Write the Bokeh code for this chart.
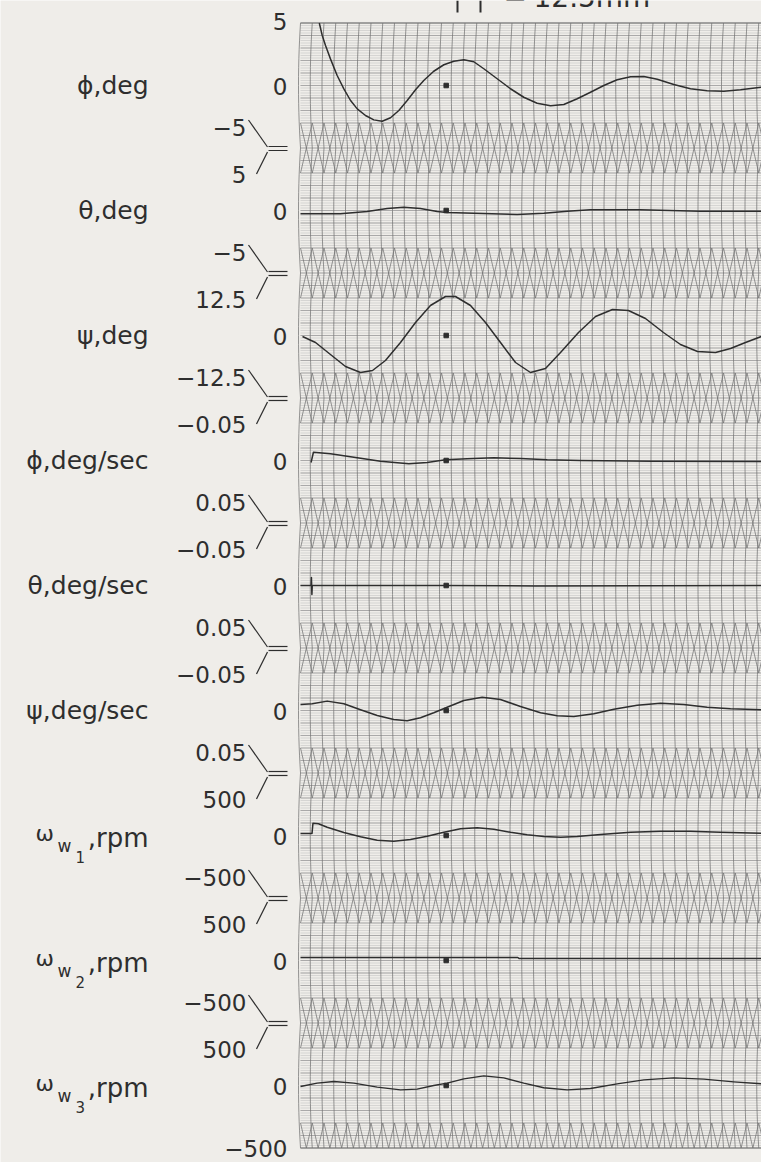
import numpy as np
from bokeh.plotting import figure
from bokeh.models import Range1d, ColumnDataSource
from bokeh.core.properties import value
from bokeh.embed import file_html
from bokeh.resources import INLINE

# ---------------------------------------------------------------- page layout
W, H = 761, 1162
X0 = 300.0        # page x of the record's left edge (t = 0)
DIV = 11.75       # page px per time division
TOP = 22.5        # page y of the upper edge of channel 1
CH = 125.0        # height of one channel band
NCH = 9

PAPER = "#efede9"
INK = "#2e2e2e"
GRID_DARK = "#737373"
GRID_MID = "#979797"
GRID_FINE = "#b9b9b9"
FONT = "DejaVu Sans"

# ---------------------------------------------------------------- channel data
channel_names = ["ϕ,deg", "θ,deg", "ψ,deg", "ϕ,deg/sec", "θ,deg/sec", "ψ,deg/sec",
                 "ωw1", "ωw2", "ωw3"]
upper_limits = [5, 5, 12.5, -0.05, -0.05, -0.05, 500, 500, 500]
lower_limits = [-5, -5, -12.5, 0.05, 0.05, 0.05, -500, -500, -500]
upper_labels = ["5", "5", "12.5", "−0.05", "−0.05", "−0.05", "500", "500", "500"]
lower_labels = ["−5", "−5", "−12.5", "0.05", "0.05", "0.05", "−500", "−500", "−500"]
zero_label = "0"

# time in chart divisions, values in channel units
phi_t = [1.6, 1.85, 2.13, 2.55, 3.12, 3.69, 4.26, 4.83, 5.53, 6.24, 6.95, 7.66, 8.37,
         9.08, 9.79, 10.49, 11.34, 12.2, 13.05, 13.9, 14.75, 15.6, 16.74, 17.87,
         19.0, 20.14, 21.28, 22.41, 23.55, 24.68, 25.81, 26.95, 28.09, 29.22, 30.36,
         31.77, 33.19, 34.61, 36.03, 37.45, 39.23]
phi_v = [5.0, 4.0, 3.2, 2.13, 0.8, -0.27, -1.2, -1.87, -2.4, -2.75, -2.86, -2.58,
         -2.0, -1.2, -0.34, 0.4, 1.14, 1.66, 1.94, 2.06, 1.9, 1.34, 0.54, -0.26,
         -0.94, -1.42, -1.62, -1.52, -1.06, -0.54, 0.0, 0.46, 0.70, 0.72, 0.50, 0.08,
         -0.26, -0.42, -0.46, -0.34, -0.14]

theta_t = [0.0, 3.4, 5.67, 7.38, 8.79, 10.21, 11.63, 12.48, 14.75, 18.44, 20.71,
           22.7, 24.68, 28.9, 34.0, 39.23]
theta_v = [-0.26, -0.26, -0.08, 0.16, 0.26, 0.16, -0.08, -0.16, -0.22, -0.32, -0.22,
           -0.06, 0.06, 0.06, -0.06, -0.06]

psi_t = [0.17, 1.28, 2.55, 3.83, 5.11, 6.13, 7.23, 8.51, 9.79, 11.06, 12.34, 13.19,
         14.47, 15.74, 17.02, 18.3, 19.57, 20.85, 22.13, 23.66, 25.11, 26.55, 27.91,
         29.36, 30.89, 32.34, 33.79, 35.32, 36.6, 37.87, 39.23]
psi_v = [-0.2, -1.4, -3.8, -6.2, -7.4, -7.0, -5.0, -1.4, 2.6, 6.0, 7.8, 7.8, 6.0, 2.6,
         -1.4, -5.4, -7.4, -6.6, -3.4, 0.6, 3.8, 5.2, 5.0, 3.4, 0.6, -1.8, -3.2, -3.4,
         -2.6, -1.4, -0.2]

phidot_t = [0.9, 1.1, 2.55, 4.83, 6.81, 9.22, 10.78, 12.34, 14.19, 16.45, 18.72, 21.0,
            23.83, 30.0, 39.23]
phidot_v = [0.0016, -0.0066, -0.0054, -0.0022, 0.0006, 0.0026, 0.0016, -0.0006,
            -0.0014, -0.0022, -0.0016, -0.0006, 0.0, 0.0006, 0.0008]

thetadot_t = [0.0, 0.9, 0.93, 0.97, 1.0, 12.3, 20.0, 39.23]
thetadot_v = [0.0, 0.0, -0.0064, 0.0072, 0.0, 0.0, 0.0004, 0.0]

psidot_t = [0.0, 1.0, 2.27, 3.69, 5.11, 6.53, 7.94, 9.08, 10.21, 11.34, 12.48, 13.9,
            15.46, 17.02, 18.72, 20.43, 21.85, 23.26, 24.96, 26.67, 28.65, 30.64,
            32.62, 34.61, 36.6, 39.23]
psidot_v = [-0.0048, -0.0054, -0.0075, -0.0054, -0.0006, 0.004, 0.0072, 0.0082,
            0.0058, 0.0018, -0.0026, -0.008, -0.0106, -0.0088, -0.0032, 0.0018,
            0.0042, 0.0048, 0.0026, -0.001, -0.0042, -0.0058, -0.0048, -0.0026,
            -0.0014, -0.0006]

w1_t = [0.0, 0.98, 1.06, 1.53, 2.27, 3.69, 5.11, 6.53, 7.94, 9.36, 10.78, 12.2,
        13.62, 15.04, 16.45, 17.87, 19.29, 20.71, 22.13, 23.55, 25.53, 28.09, 30.64,
        33.19, 35.74, 39.23]
w1_v = [16, 16, 98, 94, 66, 24, -10, -38, -46, -32, -6, 26, 54, 62, 50, 26, 6, -8,
        -14, -8, 8, 26, 34, 34, 26, 18]

w2_t = [0.0, 14.0, 18.5, 18.6, 39.23]
w2_v = [24, 24, 24, 16, 16]

w3_t = [0.0, 1.42, 2.84, 4.54, 6.53, 8.51, 9.93, 11.34, 12.48, 13.9, 15.6, 17.3,
        19.0, 20.71, 22.7, 24.68, 26.95, 29.22, 31.77, 34.33, 36.88, 39.23]
w3_v = [-8, 19, 32, 19, -13, -35, -29, 0, 19, 53, 77, 61, 19, -18, -35, -24, 13, 45,
        61, 51, 29, 13]

event_t = 12.4   # event mark written on every channel's zero line

traces = [(phi_t, phi_v), (theta_t, theta_v), (psi_t, psi_v),
          (phidot_t, phidot_v), (thetadot_t, thetadot_v), (psidot_t, psidot_v),
          (w1_t, w1_v), (w2_t, w2_v), (w3_t, w3_v)]


# ---------------------------------------------------------------- helpers
def px(xpage):
    """page x -> chart time coordinate"""
    return (xpage - X0) / DIV


def center(i):
    return TOP + CH * (i + 0.5)


def to_y(i, v):
    up, lo = upper_limits[i], lower_limits[i]
    mid = 0.5 * (up + lo)
    return center(i) - (np.asarray(v, float) - mid) / (up - lo) * CH


T_END = px(W) + 0.5

p = figure(width=W, height=H, x_range=Range1d(px(0), px(W)), y_range=Range1d(H, 0),
           output_backend="svg", toolbar_location=None, min_border=0)
p.axis.visible = False
p.grid.visible = False
p.outline_line_color = None
p.background_fill_color = PAPER
p.border_fill_color = PAPER

# ---------------------------------------------------------------- grid
bottom = TOP + NCH * CH

# fine and medium horizontal rulings
fine_y = np.arange(TOP, bottom + 0.01, 2.5)
p.multi_line(xs=[[0, T_END]] * len(fine_y), ys=[[y, y] for y in fine_y],
             line_color=GRID_FINE, line_width=0.5, line_alpha=0.9)
mid_y = np.arange(TOP, bottom + 0.01, 12.5)
p.multi_line(xs=[[0, T_END]] * len(mid_y), ys=[[y, y] for y in mid_y],
             line_color=GRID_MID, line_width=0.7)

# vertical time lines, bowed slightly within each channel
BOW = 2.0
vx, vy = [], []
for k in range(0, int(T_END) + 1):
    for i in range(NCH):
        ys = np.linspace(center(i) - CH / 2, center(i) + CH / 2, 15)
        off = -BOW * (1 - ((ys - center(i)) / (CH / 2)) ** 2)
        vx.append(list(k + off / DIV))
        vy.append(list(ys))
p.multi_line(xs=vx, ys=vy, line_color=GRID_DARK, line_width=0.75)

# crossed zig-zag bands straddling each channel boundary
ZH = 25.0
zx, zy = [], []
ks = np.arange(0, int(T_END) + 2)
for i in range(1, NCH):
    b = TOP + CH * i
    ya = np.where(ks % 2 == 0, b - ZH, b + ZH)
    yb = np.where(ks % 2 == 0, b + ZH, b - ZH)
    zx += [list(ks), list(ks)]
    zy += [list(ya), list(yb)]
# the lower edge carries only the upper half of a band
hk = np.arange(0, 2 * (int(T_END) + 2)) / 2.0
ya = np.where((hk * 2) % 2 == 0, bottom - ZH, bottom)
zx.append(list(hk))
zy.append(list(ya))
p.multi_line(xs=zx, ys=zy, line_color=GRID_DARK, line_width=0.75)

# record edges
p.multi_line(xs=[[0, T_END]] * 2, ys=[[TOP, TOP], [bottom, bottom]],
             line_color=GRID_DARK, line_width=0.9)

# ---------------------------------------------------------------- traces
for i, (t, v) in enumerate(traces):
    p.line(t, to_y(i, v), line_color=INK, line_width=1.5, line_join="round")

p.scatter([event_t] * NCH, [center(i) for i in range(NCH)], marker="square",
          size=4.5, fill_color=INK, line_color=INK)

# ---------------------------------------------------------------- scale text
def add_text(xs, ys, texts, size, align="right", baseline="middle", style="normal"):
    src = ColumnDataSource(dict(x=xs, y=ys, text=texts))
    p.text(x="x", y="y", text="text", source=src, text_font=value(FONT),
           text_font_size=f"{size}px", text_align=align, text_baseline=baseline,
           text_color=INK, text_font_style=style)

# zero lines
add_text([px(287)] * NCH, [center(i) + 1 for i in range(NCH)], [zero_label] * NCH, 23)
# outer limits
add_text([px(287), px(287)], [TOP - 2, bottom],
         [upper_labels[0], lower_labels[-1]], 23)
# limits at the shared boundaries
bx, by, bt = [], [], []
for i in range(1, NCH):
    b = TOP + CH * i
    bx += [px(246), px(246)]
    by += [b - 21, b + 26]
    bt += [lower_labels[i - 1], upper_labels[i]]
add_text(bx, by, bt, 23)

# bracket marks pointing at each boundary
sx0, sy0, sx1, sy1 = [], [], [], []
for i in range(1, NCH):
    b = TOP + CH * i
    sx0 += [px(248), px(267), px(268), px(268)]
    sy0 += [b - 28, b + 4, b - 1.5, b + 2.5]
    sx1 += [px(267), px(256), px(287), px(287)]
    sy1 += [b - 1, b + 26, b - 1.5, b + 2.5]
p.segment(sx0, sy0, sx1, sy1, line_color=INK, line_width=1.2)

# channel names
add_text([px(148)] * 6, [center(i) for i in range(6)], channel_names[:6], 25)
for i in range(6, 9):
    c = center(i)
    add_text([px(35)], [c - 2], ["ω"], 22, align="left")
    add_text([px(57)], [c + 10], ["w"], 17, align="left")
    add_text([px(75)], [c + 21], [channel_names[i][-1]], 15, align="left")
    add_text([px(148)], [c + 2], [",rpm"], 26, align="right")

# paper-speed note at the top
p.segment([px(457), px(480)], [0, 0], [px(457), px(480)], [12, 12],
          line_color=INK, line_width=2)
add_text([px(503)], [-4], ["="], 28, align="left")
add_text([px(533)], [-3], ["12.5mm"], 28, align="left")

open("out.html", "w").write(file_html(p, INLINE))
